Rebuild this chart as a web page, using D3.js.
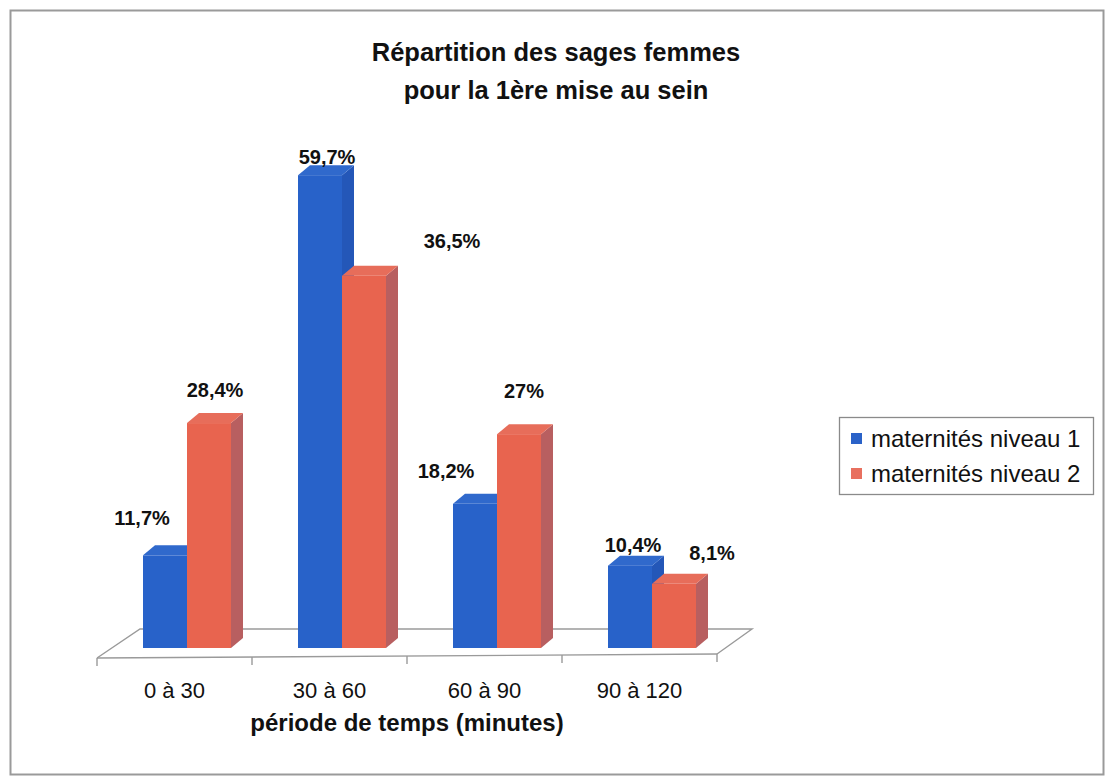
<!DOCTYPE html>
<html>
<head>
<meta charset="utf-8">
<script src="https://cdn.jsdelivr.net/npm/d3@7"></script>
<style>
  html, body { margin: 0; padding: 0; background: #ffffff; }
  svg { display: block; }
  text { font-family: "Liberation Sans", Arial, sans-serif; fill: #111; }
</style>
</head>
<body>
<svg id="chart" width="1108" height="777"></svg>
<script>
// ---------------- data ----------------
const categories = ["0 à 30", "30 à 60", "60 à 90", "90 à 120"];
const seriesNames = ["maternités niveau 1", "maternités niveau 2"];
// bar heights (percent)
const niveau1Values = [11.7, 59.7, 18.2, 10.4];
const niveau2Values = [28.4, 47.0, 27.0, 8.1];
// data labels as printed
const niveau1Labels = ["11,7%", "59,7%", "18,2%", "10,4%"];
const niveau2Labels = ["28,4%", "36,5%", "27%", "8,1%"];
const titleLines = ["Répartition des sages femmes", "pour la 1ère mise au sein"];
const xAxisTitle = "période de temps (minutes)";

// ---------------- layout ----------------
const W = 1108, H = 777;
const floorFrontY = 656, floorBackY = 629;
const floorFrontX = [97, 717], floorBackX = [140, 752];
const barBaseY = 648;
const barDepthDx = 12, barDepthDy = 10;
const groupOffset = 46, groupWidth = 88;
const colors = {
  front: ["#2862c9", "#e8644f"],
  top:   ["#3069cc", "#e76d5a"],
  side:  ["#2457b8", "#b85f60"],
  legend:["#2a62c8", "#e8705f"]
};
// label placement relative to bar front centre / front top
const labelShift = [
  [[-23, -30], [7, -11], [-29, -26], [3, -14]],
  [[6, -26], [88, -28], [5, -36], [38, -24]]
];

const svg = d3.select("#chart");

// outer frame
svg.append("rect")
  .attr("x", 10.5).attr("y", 10.5)
  .attr("width", 1093).attr("height", 764)
  .attr("fill", "#fff").attr("stroke", "#9a9a9a").attr("stroke-width", 2);

// scales
const x = d3.scaleBand().domain(categories).range(floorFrontX).paddingInner(0).paddingOuter(0);
const xs = d3.scaleBand().domain(d3.range(seriesNames.length)).range([0, groupWidth]);
const y = d3.scaleLinear().domain([0, 60]).range([barBaseY, barBaseY - 60 * 7.92]);

// floor
svg.append("path")
  .attr("d", `M${floorFrontX[0]},${floorFrontY + 2} L${floorBackX[0]},${floorBackY} L${floorBackX[1]},${floorBackY} L${floorFrontX[1]},${floorFrontY - 2}`)
  .attr("fill", "none").attr("stroke", "#9a9a9a").attr("stroke-width", 1.4);

// bars
const seriesVals = [niveau1Values, niveau2Values];
const seriesLabels = [niveau1Labels, niveau2Labels];
const barsG = svg.append("g");
categories.forEach((cat, ci) => {
  seriesVals.forEach((vals, si) => {
    const x0 = x(cat) + groupOffset + xs(si);
    const w = xs.bandwidth();
    const yt = y(vals[ci]);
    const g = barsG.append("g");
    g.append("path")
      .attr("d", `M${x0 + w},${yt} L${x0 + w + barDepthDx},${yt - barDepthDy} L${x0 + w + barDepthDx},${barBaseY - barDepthDy} L${x0 + w},${barBaseY} Z`)
      .attr("fill", colors.side[si]);
    g.append("path")
      .attr("d", `M${x0},${yt} L${x0 + barDepthDx},${yt - barDepthDy} L${x0 + w + barDepthDx},${yt - barDepthDy} L${x0 + w},${yt} Z`)
      .attr("fill", colors.top[si]);
    g.append("rect")
      .attr("x", x0).attr("y", yt)
      .attr("width", w).attr("height", barBaseY - yt)
      .attr("fill", colors.front[si]);
  });
});

// floor front line + ticks
svg.append("line")
  .attr("x1", floorFrontX[0]).attr("y1", floorFrontY + 2)
  .attr("x2", floorFrontX[1]).attr("y2", floorFrontY - 2)
  .attr("stroke", "#9a9a9a").attr("stroke-width", 1.4);
const tickXs = categories.map(c => x(c)).concat([x(categories[categories.length - 1]) + x.bandwidth()]);
svg.append("g").selectAll("line").data(tickXs).join("line")
  .attr("x1", d => d).attr("x2", d => d)
  .attr("y1", (d, i) => floorFrontY + 2 - i).attr("y2", (d, i) => floorFrontY + 10 - i)
  .attr("stroke", "#9a9a9a").attr("stroke-width", 1.4);

// category axis labels via d3 axis
const axisG = svg.append("g")
  .attr("transform", `translate(0, ${floorFrontY})`)
  .call(d3.axisBottom(x).tickSize(0).tickPadding(26));
axisG.select(".domain").remove();
axisG.selectAll("text")
  .attr("font-size", 22).attr("font-family", "Liberation Sans, Arial, sans-serif")
  .attr("fill", "#111");

// value labels
categories.forEach((cat, ci) => {
  seriesVals.forEach((vals, si) => {
    const x0 = x(cat) + groupOffset + xs(si);
    const cx = x0 + xs.bandwidth() / 2 + labelShift[si][ci][0];
    const cy = y(vals[ci]) + labelShift[si][ci][1];
    svg.append("text")
      .attr("x", cx).attr("y", cy)
      .attr("text-anchor", "middle")
      .attr("font-size", 20).attr("font-weight", "bold")
      .text(seriesLabels[si][ci]);
  });
});

// title
svg.append("g").selectAll("text").data(titleLines).join("text")
  .attr("x", 556).attr("y", (d, i) => 61 + i * 38)
  .attr("text-anchor", "middle")
  .attr("font-size", 25.5).attr("font-weight", "bold")
  .text(d => d);

// x axis title
svg.append("text")
  .attr("x", (floorFrontX[0] + floorFrontX[1]) / 2).attr("y", 731)
  .attr("text-anchor", "middle")
  .attr("font-size", 24).attr("font-weight", "bold")
  .text(xAxisTitle);

// legend
const lg = svg.append("g").attr("transform", "translate(839, 417)");
lg.append("rect").attr("x", 0.5).attr("y", 0.5).attr("width", 254).attr("height", 77)
  .attr("fill", "#fff").attr("stroke", "#8a8a8a").attr("stroke-width", 1.3);
seriesNames.forEach((name, i) => {
  lg.append("rect").attr("x", 12).attr("y", 16 + i * 35).attr("width", 11).attr("height", 11)
    .attr("fill", colors.legend[i]);
  lg.append("text").attr("x", 32).attr("y", 30 + i * 35)
    .attr("font-size", 24).text(name);
});
</script>
</body>
</html>
